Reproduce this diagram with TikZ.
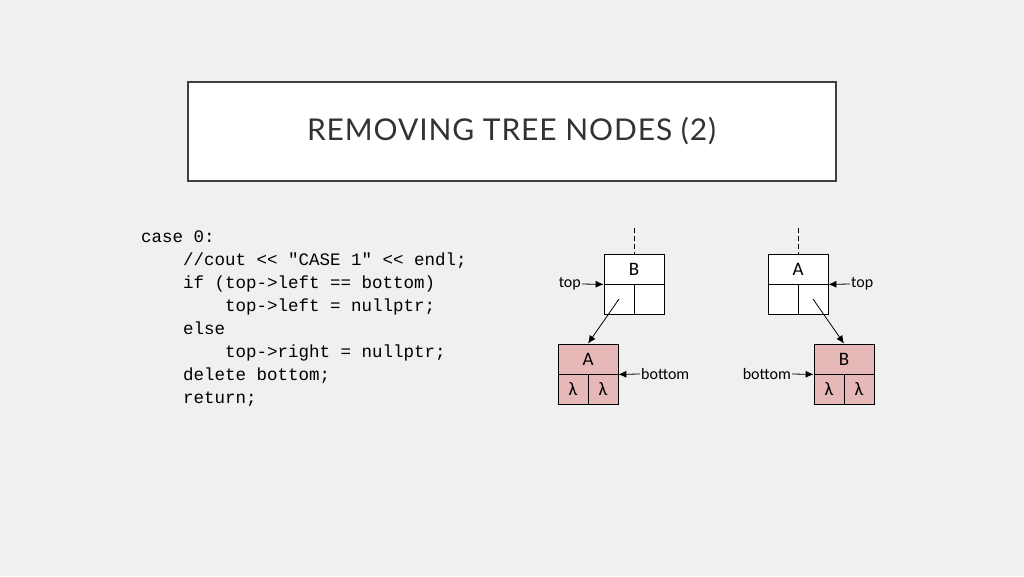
\documentclass[tikz,border=0pt]{standalone}
\usepackage{fontspec}
\usetikzlibrary{arrows.meta}
\setmainfont{Carlito}
\newfontfamily\titlefont[LetterSpace=3]{Lato}
\newfontfamily\codefont{Liberation Mono}
\definecolor{bg}{HTML}{F0F0F0}
\definecolor{pinkfill}{HTML}{E6B9B8}
\definecolor{frame}{HTML}{404040}
\begin{document}
\begin{tikzpicture}[x=1pt,y=-1pt,
  cell/.style={draw=black,line width=0.8pt,minimum width=30pt,minimum height=30pt,inner sep=0pt,font=\fontsize{19}{19}\selectfont},
  wide/.style={cell,minimum width=60pt},
  ptr/.style={-{Latex[length=8pt,width=7pt]},line width=0.8pt},
  lbl/.style={font=\fontsize{16}{16}\selectfont,inner sep=1pt}]
\fill[bg] (0,0) rectangle (1024,576);
\useasboundingbox (0,0) rectangle (1024,576);
\node[draw=frame,fill=white,line width=2pt,minimum width=648pt,minimum height=99pt,text=black!80,font=\titlefont\fontsize{30}{30}\selectfont] (title) at (511.5,131) {REMOVING TREE NODES (2)};
\node[anchor=north west,align=left,inner sep=0pt,font=\codefont\fontsize{17.5}{23}\selectfont] (code) at (141,231) {case 0:\\
\ \ \ \ //cout << "CASE 1" << endl;\\
\ \ \ \ if (top->left == bottom)\\
\ \ \ \ \ \ \ \ top->left = nullptr;\\
\ \ \ \ else\\
\ \ \ \ \ \ \ \ top->right = nullptr;\\
\ \ \ \ delete bottom;\\
\ \ \ \ return;};
% left tree
\node[wide,fill=white] (b1) at (634,269) {B};
\node[cell,fill=white] (b1l) at (619,299) {};
\node[cell,fill=white] (b1r) at (649,299) {};
\node[wide,fill=pinkfill] (a1) at (588,359) {A};
\node[cell,fill=pinkfill] (a1l) at (573,389) {λ};
\node[cell,fill=pinkfill] (a1r) at (603,389) {λ};
\coordinate (d1) at (634,228);
\draw[dash pattern=on 5pt off 3pt,line width=0.8pt] (d1) -- (b1.north);
\draw[ptr] (b1l.center) -- (a1.north);
\node[lbl,anchor=east] (top1) at (582,284) {top};
\draw[ptr] (top1.east) -- (b1.south west);
\node[lbl,anchor=west] (bot1) at (640,374) {bottom};
\draw[ptr] (bot1.west) -- (a1.south east);
% right tree
\node[wide,fill=white] (a2) at (798,269) {A};
\node[cell,fill=white] (a2l) at (783,299) {};
\node[cell,fill=white] (a2r) at (813,299) {};
\node[wide,fill=pinkfill] (b2) at (844,359) {B};
\node[cell,fill=pinkfill] (b2l) at (829,389) {λ};
\node[cell,fill=pinkfill] (b2r) at (859,389) {λ};
\coordinate (d2) at (798,228);
\draw[dash pattern=on 5pt off 3pt,line width=0.8pt] (d2) -- (a2.north);
\draw[ptr] (a2r.center) -- (b2.north);
\node[lbl,anchor=west] (top2) at (850,284) {top};
\draw[ptr] (top2.west) -- (a2.south east);
\node[lbl,anchor=east] (bot2) at (792,374) {bottom};
\draw[ptr] (bot2.east) -- (b2.south west);
\end{tikzpicture}
\end{document}
